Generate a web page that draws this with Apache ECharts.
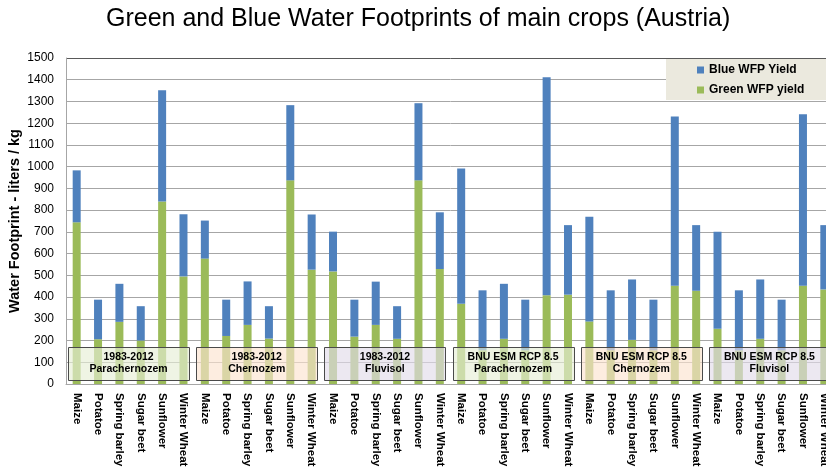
<!DOCTYPE html>
<html>
<head>
<meta charset="utf-8">
<script src="https://cdn.jsdelivr.net/npm/echarts@6/dist/echarts.min.js"></script>
<style>
html,body{margin:0;padding:0;background:#fff;overflow:hidden;width:826px;height:469px;}
#c{width:835px;height:469px;}
</style>
</head>
<body>
<div id="c"></div>
<script>
// ---- data ----
const crops = ['Maize','Potatoe','Spring barley','Sugar beet','Sunflower','Winter Wheat'];
const groupLabels = [
  '1983-2012\nParachernozem',
  '1983-2012\nChernozem',
  '1983-2012\nFluvisol',
  'BNU ESM RCP 8.5\nParachernozem',
  'BNU ESM RCP 8.5\nChernozem',
  'BNU ESM RCP 8.5\nFluvisol'
];
const greenWFP = [
  744,206,286,200,840,495,
  577,221,272,209,937,526,
  518,218,272,208,937,529,
  369,155,208,155,408,411,
  288,155,203,155,452,429,
  254,155,208,155,452,435
];
const blueWFP = [
  239,182,175,158,512,286,
  175,167,200,149,346,254,
  183,170,199,150,355,261,
  623,276,253,233,1003,320,
  481,276,278,233,779,302,
  447,276,273,233,789,296
];
const yTicks = [0,100,200,300,400,500,600,700,800,900,1000,1100,1200,1300,1400,1500];
const yTitle = 'Water Footprint - liters / kg';
const chartTitle = 'Green and Blue Water Footprints of main crops (Austria)';

// ---- build ----
const categories = [];
groupLabels.forEach((g, gi) => crops.forEach(c => categories.push(gi + '|' + c)));
const groupStarts = groupLabels.map((g, gi) => gi * crops.length);
const boxFills = ['rgba(230,238,214,0.65)','rgba(252,228,208,0.65)','rgba(226,220,234,0.65)',
                  'rgba(230,238,214,0.65)','rgba(252,228,208,0.65)','rgba(226,220,234,0.65)'];
const gridColors = yTicks.map((t, i) => i === yTicks.length - 1 ? '#595959' : '#a6a6a6');
const FONT = '"Liberation Sans", Arial, sans-serif';

const chart = echarts.init(document.getElementById('c'), null, {renderer: 'canvas'});
chart.setOption({
  animation: false,
  graphic: [
    {type: 'text', left: 106, top: 7,
     style: {text: chartTitle, font: '25px ' + FONT, fill: '#000'}},
    {type: 'text', x: 15, y: 221, rotation: Math.PI / 2,
     style: {text: yTitle, font: 'bold 14.5px ' + FONT, fill: '#000', align: 'center', verticalAlign: 'middle'}}
  ],
  legend: {
    data: ['Blue WFP Yield', 'Green WFP yield'],
    orient: 'vertical', left: 666, top: 59,
    backgroundColor: '#ebe9de',
    padding: [5, 40, 4, 31],
    itemWidth: 7, itemHeight: 7, itemGap: 8,
    icon: 'rect',
    textStyle: {fontFamily: FONT, fontWeight: 'bold', fontSize: 12, color: '#000'}
  },
  grid: {left: 66, right: 0, top: 58, bottom: 85, containLabel: false, outerBoundsMode: 'none'},
  xAxis: {
    type: 'category', data: categories,
    axisLine: {lineStyle: {color: '#a6a6a6'}},
    axisTick: {length: 3, lineStyle: {color: '#a6a6a6'}},
    axisLabel: {
      interval: 0, rotate: -90, margin: 9,
      fontFamily: FONT, fontWeight: 'bold', fontSize: 11.5, color: '#000',
      formatter: (v, i) => crops[i % crops.length]
    }
  },
  yAxis: {
    type: 'value', min: 0, max: 1500, interval: 100,
    axisLine: {show: true, lineStyle: {color: '#a6a6a6'}},
    axisTick: {show: false},
    axisLabel: {fontFamily: FONT, fontSize: 12, color: '#000', margin: 12, formatter: v => String(v)},
    splitLine: {lineStyle: {color: gridColors}}
  },
  series: [
    {name: 'Green WFP yield', type: 'bar', stack: 'wfp', data: greenWFP, barWidth: 8,
     itemStyle: {color: '#9bbb59'}},
    {name: 'Blue WFP Yield', type: 'bar', stack: 'wfp', data: blueWFP, barWidth: 8,
     itemStyle: {color: '#4f81bd'}},
    {
      type: 'custom', z: 10, silent: true, clip: false,
      data: groupStarts.map(s => [s, 0]),
      encode: {x: 0, y: 1},
      renderItem: function (params, api) {
        const idx = groupStarts[params.dataIndex];
        const c = api.coord([idx, 0]);
        const bw = api.size([1, 0])[0];
        const left = c[0] - bw / 2 + 2;
        const width = bw * 5.67;
        const top = api.coord([idx, 171])[1];
        const bottom = api.coord([idx, 17])[1];
        return {
          type: 'group',
          children: [
            {type: 'rect', shape: {x: Math.round(left) + 0.5, y: Math.round(top) + 0.5, width: Math.round(width), height: Math.round(bottom - top)},
             style: {fill: boxFills[params.dataIndex], stroke: '#4a4a4a', lineWidth: 1}},
            {type: 'text', style: {text: groupLabels[params.dataIndex], x: left + width / 2, y: (top + bottom) / 2,
              align: 'center', verticalAlign: 'middle', font: 'bold 10.5px ' + FONT, fill: '#000', lineHeight: 12}}
          ]
        };
      }
    }
  ]
});
</script>
</body>
</html>
